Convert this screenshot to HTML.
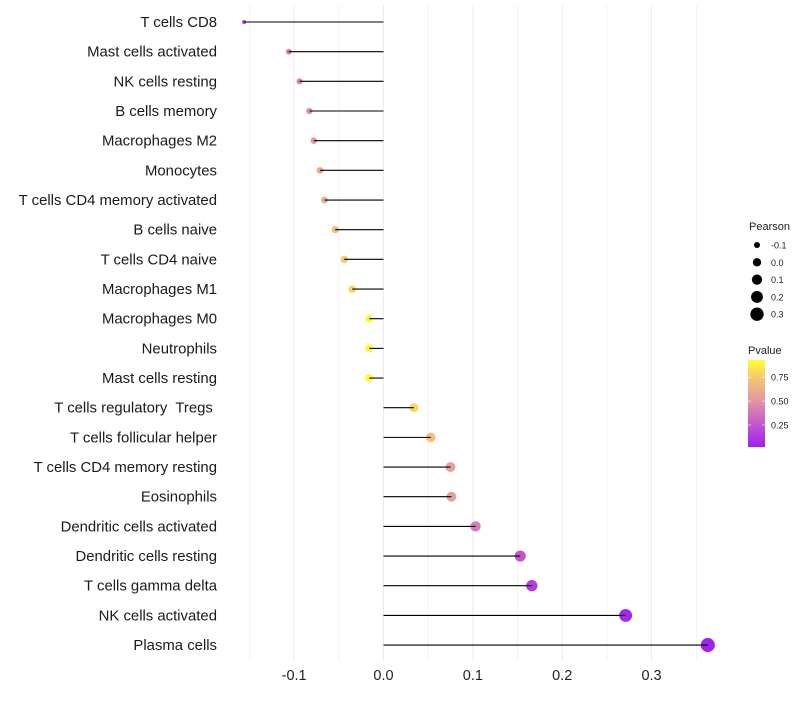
<!DOCTYPE html>
<html><head><meta charset="utf-8"><style>
body{margin:0;background:#fff;font-family:"Liberation Sans",sans-serif}
</style></head><body>
<svg id="chart" width="800" height="700" xmlns="http://www.w3.org/2000/svg">
<defs><linearGradient id="pg" x1="0" y1="1" x2="0" y2="0">
<stop offset="0" stop-color="#a020f0"/><stop offset="0.3" stop-color="#c860c8"/><stop offset="0.55" stop-color="#e49aa0"/><stop offset="0.8" stop-color="#f6c870"/><stop offset="1" stop-color="#ffff30"/></linearGradient></defs>
<g id="grid"></g><g id="dots"></g><g id="marks"></g><g id="labels"></g><g id="legend"></g>
</svg>
<script>
const categories=["T cells CD8","Mast cells activated","NK cells resting","B cells memory","Macrophages M2","Monocytes","T cells CD4 memory activated","B cells naive","T cells CD4 naive","Macrophages M1","Macrophages M0","Neutrophils","Mast cells resting","T cells regulatory  Tregs ","T cells follicular helper","T cells CD4 memory resting","Eosinophils","Dendritic cells activated","Dendritic cells resting","T cells gamma delta","NK cells activated","Plasma cells"];
const pearson=[-0.156,-0.106,-0.094,-0.083,-0.078,-0.071,-0.066,-0.054,-0.044,-0.035,-0.016,-0.016,-0.016,0.034,0.053,0.075,0.076,0.103,0.153,0.166,0.271,0.363];
const pvalue=[0.12,0.4,0.45,0.5,0.52,0.6,0.62,0.7,0.75,0.8,0.92,0.92,0.92,0.8,0.7,0.55,0.55,0.4,0.25,0.15,0.05,0.03];
const xTicks=[-0.1,0,0.1,0.2,0.3];
const xTickLabels=["-0.1","0.0","0.1","0.2","0.3"];
const sizeLegend=[-0.1,0,0.1,0.2,0.3];
const pTicks=[0.25,0.5,0.75];
const NS="http://www.w3.org/2000/svg";
const X=v=>383.5+v*893.5;
const Y=i=>22+i*29.67;
const R=v=>Math.sqrt(4+(v+0.156)*88);
const P=p=>447-(p-0.02)/(0.93-0.02)*87;
function color(p){
 const st=[[0,[160,32,240]],[0.3,[200,96,200]],[0.55,[228,154,160]],[0.8,[246,200,112]],[1,[255,255,48]]];
 let t=Math.max(0,Math.min(1,(p-0.02)/0.91));
 for(let k=1;k<st.length;k++){if(t<=st[k][0]){const a=st[k-1],b=st[k];const f=(t-a[0])/(b[0]-a[0]);
 return "rgb("+a[1].map((c,j)=>Math.round(c+(b[1][j]-c)*f)).join(",")+")";}}
 return "rgb(255,255,48)";}
function mk(tag,attrs,parent,txt){const e=document.createElementNS(NS,tag);for(const k in attrs)e.setAttribute(k,attrs[k]);if(txt!==undefined)e.textContent=txt;document.getElementById(parent).appendChild(e);return e;}
const grid=[-0.15,-0.1,-0.05,0,0.05,0.1,0.15,0.2,0.25,0.3,0.35];
grid.forEach(g=>{const l=mk("line",{x1:X(g),x2:X(g),y1:5,y2:661,stroke:"#ebebeb","stroke-width":Math.round(g*100)%10===0?1:0.6},"grid");

});
xTicks.forEach((t,i)=>{const e=mk("text",{x:X(t),y:680,"text-anchor":"middle","font-size":14.5,fill:"#222"},"labels",xTickLabels[i]);

});
categories.forEach((c,i)=>{
 const t=mk("text",{x:217,y:Y(i)+5,"text-anchor":"end","font-size":14.9,fill:"#1a1a1a",style:"white-space:pre"},"labels",c);
 
 
 const d=mk("circle",{cx:X(pearson[i]),cy:Y(i),r:R(pearson[i]),fill:color(pvalue[i])},"dots");
 
 
 const l=mk("line",{x1:X(0),x2:X(pearson[i]),y1:Y(i),y2:Y(i),stroke:"#000","stroke-width":1.1},"marks");
 
 
});
let e=mk("text",{x:749,y:230,"font-size":11,fill:"#222"},"legend","Pearson");


sizeLegend.forEach((v,i)=>{const y=245+i*17.3;
 const c=mk("circle",{cx:757,cy:y,r:R(v),fill:"#000"},"legend");
 
 
 const t=mk("text",{x:771,y:y+3.5,"font-size":9,fill:"#222"},"legend",xTickLabels[i]);
 
 });
e=mk("text",{x:748,y:354,"font-size":11,fill:"#222"},"legend","Pvalue");


e=mk("rect",{x:748,y:360,width:17,height:87,fill:"url(#pg)"},"legend");


pTicks.forEach(p=>{const t=mk("text",{x:771,y:P(p)+3.5,"font-size":9,fill:"#222"},"legend",p.toFixed(2));
 
 
 const l=mk("line",{x1:748,x2:751,y1:P(p),y2:P(p),stroke:"#fff","stroke-width":0.6},"legend");
 
 
 const l2=mk("line",{x1:762,x2:765,y1:P(p),y2:P(p),stroke:"#fff","stroke-width":0.6},"legend");
 
 });
</script>
</body></html>
